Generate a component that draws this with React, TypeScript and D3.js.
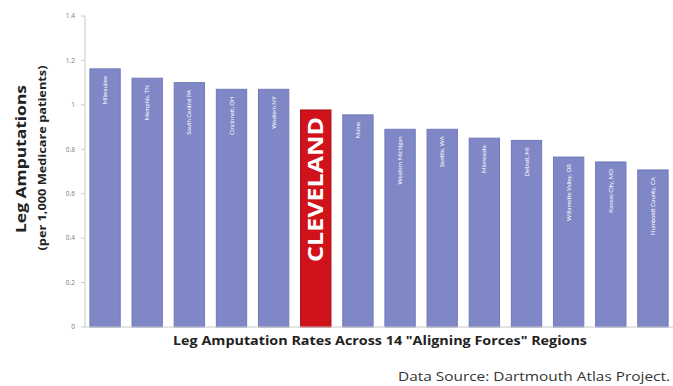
import React from "react";
import * as d3 from "d3";

const regions = [
  "Milwaukee",
  "Memphis, TN",
  "South Central PA",
  "Cincinnati, OH",
  "Western NY",
  "CLEVELAND",
  "Maine",
  "Western Michigan",
  "Seattle, WA",
  "Minnesota",
  "Detroit, MI",
  "Willamette Valley, OR",
  "Kansas City, MO",
  "Humboldt County, CA",
];
const rates = [1.162, 1.12, 1.1, 1.07, 1.07, 0.977, 0.955, 0.89, 0.89, 0.85, 0.84, 0.765, 0.743, 0.707];
const yTicks = [0, 0.2, 0.4, 0.6, 0.8, 1, 1.2, 1.4];
const highlight = "CLEVELAND";

const W = 673;
const H = 386;
const FONT = "'Open Sans', Lato, sans-serif";

export default function App() {
  const x = d3.scaleBand<string>().domain(regions).range([84, 674]).paddingInner(0.28).paddingOuter(0.14);
  const y = d3.scaleLinear().domain([0, 1.4]).range([327, 16]);
  const axisX = 85;

  return (
    <svg
      width={W}
      height={H}
      style={{ position: "absolute", left: 0, top: 0, background: "#fff" }}
      fontFamily={FONT}
    >
      <line x1={axisX} x2={axisX} y1={y(1.4)} y2={y(0)} stroke="#c8c8c8" strokeWidth={1} />
      {yTicks.map((t) => (
        <g key={t}>
          <line x1={axisX - 4} x2={axisX} y1={y(t)} y2={y(t)} stroke="#c8c8c8" />
          <text x={axisX - 10} y={y(t)} dy="0.35em" textAnchor="end" fontSize={6.5} fill="#777">
            {String(t)}
          </text>
        </g>
      ))}
      {regions.map((r, i) => {
        const isH = r === highlight;
        const bx = x(r)!;
        const bw = x.bandwidth();
        const top = y(rates[i]);
        const cx = bx + bw / 2;
        return (
          <g key={r}>
            <rect
              x={bx}
              y={top}
              width={bw}
              height={y(0) - top}
              fill={isH ? "#d0121b" : "#7f87c6"}
              stroke={isH ? "#a50d14" : "#727ab9"}
              strokeWidth={1}
            />
            {isH ? (
              <text
                transform={`translate(${cx},${top + 7}) rotate(-90)`}
                textAnchor="end"
                dy="0.36em"
                fontSize={21}
                fontWeight="bold"
                fill="#fff"
                textLength={145}
                lengthAdjust="spacingAndGlyphs"
              >
                {r}
              </text>
            ) : (
              <text
                transform={`translate(${cx},${top + 7}) rotate(-90)`}
                textAnchor="end"
                dy="0.35em"
                fontSize={6}
                fill="#fff"
                fontFamily="Lato, sans-serif"
              >
                {r}
              </text>
            )}
          </g>
        );
      })}
      <line x1={axisX} x2={W} y1={y(0)} y2={y(0)} stroke="#c8c8c8" />
      <text
        transform={`translate(21,${159}) rotate(-90)`}
        textAnchor="middle"
        dy="0.35em"
        fontSize={15}
        fontWeight="bold"
        fill="#222"
        textLength={148}
        lengthAdjust="spacingAndGlyphs"
      >
        Leg Amputations
      </text>
      <text
        transform={`translate(42,${158}) rotate(-90)`}
        textAnchor="middle"
        dy="0.35em"
        fontSize={11}
        fontWeight="bold"
        fill="#222"
        textLength={185}
        lengthAdjust="spacingAndGlyphs"
      >
        (per 1,000 Medicare patients)
      </text>
      <text
        x={380}
        y={345}
        textAnchor="middle"
        fontSize={12.5}
        fontWeight="bold"
        fill="#222"
        textLength={414}
        lengthAdjust="spacingAndGlyphs"
      >
        Leg Amputation Rates Across 14 "Aligning Forces" Regions
      </text>
      <text
        x={670}
        y={381}
        textAnchor="end"
        fontSize={12}
        fill="#333"
        textLength={272}
        lengthAdjust="spacingAndGlyphs"
      >
        Data Source: Dartmouth Atlas Project.
      </text>
    </svg>
  );
}
